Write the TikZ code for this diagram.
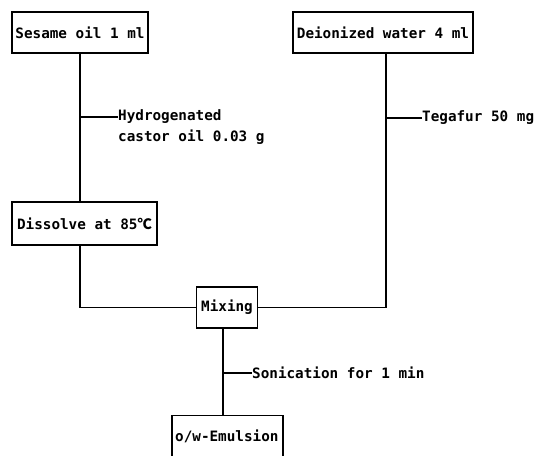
\documentclass[tikz,border=0pt]{standalone}
\usepackage{fontspec}
\setmonofont{DejaVu Sans Mono}
\newfontfamily\cjk{Noto Sans CJK SC}
\begin{document}
\begin{tikzpicture}[x=1pt,y=-1pt,
  box/.style={draw, line width=1.1pt, inner sep=0pt, font=\ttfamily\bfseries\fontsize{14.3}{17}\selectfont},
  lbl/.style={inner sep=0pt, font=\ttfamily\bfseries\fontsize{14.3}{17}\selectfont},
  conn/.style={line width=1.4pt}]
\useasboundingbox (0,0) rectangle (535,455);
\clip (0,0) rectangle (535,455);
\node[box, minimum width=136pt, minimum height=41pt] (ses) at (80,32.5) {Sesame oil 1 ml};
\node[box, minimum width=180pt, minimum height=41pt] (dei) at (383,32.5) {Deionized water 4 ml};
\node[box, minimum width=145pt, minimum height=43pt] (dis) at (84.5,223.5) {Dissolve at 85{\cjk\bfseries ℃}};
\node[box, minimum width=61pt, minimum height=41pt] (mix) at (227,307.5) {Mixing};
\node[box, minimum width=111pt, minimum height=50pt, anchor=north] (emu) at (227.5,415) {};
\node[lbl, anchor=west] (emut) at (175,436) {o/w-Emulsion};
\coordinate (b1) at (80,117);
\coordinate (b2) at (386,118);
\coordinate (b3) at (223,373);
\node[lbl, anchor=west] (hyd) at (118,117) {Hydrogenated};
\node[lbl, anchor=west] (cas) at (118,137) {castor oil 0.03 g};
\node[lbl, anchor=west] (teg) at (422,118) {Tegafur 50 mg};
\node[lbl, anchor=west] (son) at (252,373) {Sonication for 1 min};
\draw[conn] (ses.south -| b1) -- (dis.north -| b1);
\draw[conn] (b1) -- (hyd.west);
\draw[conn] (dei.south -| b2) -- (b2 |- mix.east) -- (mix.east);
\draw[conn] (b2) -- (teg.west);
\draw[conn] (dis.south -| b1) -- (b1 |- mix.west) -- (mix.west);
\draw[conn] (mix.south -| b3) -- (emu.north -| b3);
\draw[conn] (b3) -- (son.west);
\end{tikzpicture}
\end{document}
